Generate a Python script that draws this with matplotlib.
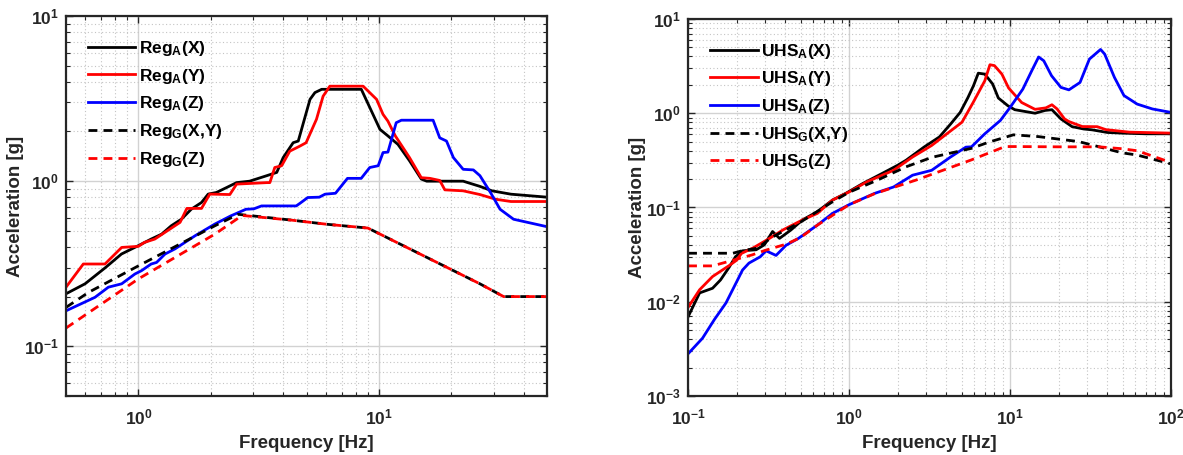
import numpy as np
import matplotlib
matplotlib.use("Agg")
import matplotlib.pyplot as plt
from matplotlib.ticker import LogLocator, NullFormatter, FuncFormatter

plt.rcParams['font.family'] = ['Liberation Sans', 'DejaVu Sans']
plt.rcParams['font.weight'] = 'bold'
plt.rcParams['mathtext.fontset'] = 'custom'
plt.rcParams['mathtext.rm'] = 'Liberation Sans:bold'
plt.rcParams['mathtext.it'] = 'Liberation Sans:bold'
plt.rcParams['mathtext.bf'] = 'Liberation Sans:bold'
plt.rcParams['mathtext.sf'] = 'Liberation Sans:bold'
plt.rcParams['mathtext.default'] = 'rm'

# ---------------- Left panel data (regulatory spectra) ----------------
reg_ax_f = [0.5, 0.6, 0.73, 0.85, 1.0, 1.13, 1.25, 1.37, 1.51, 1.66, 1.83, 1.95, 2.11, 2.33, 2.56,
            2.9, 3.42, 3.76, 4.0, 4.4, 4.62, 5.17, 5.42, 5.78, 8.45, 10.1, 10.9, 12.0, 13.4, 15.0,
            15.8, 22.4, 26.3, 29.5, 35.4, 50]
reg_ax_a = [0.208, 0.239, 0.30, 0.362, 0.407, 0.446, 0.478, 0.537, 0.589, 0.677, 0.743, 0.835, 0.854,
            0.916, 0.98, 1.0, 1.08, 1.13, 1.39, 1.71, 1.75, 3.13, 3.44, 3.6, 3.6, 2.06, 1.88, 1.67,
            1.33, 1.03, 1.0, 1.0, 0.93, 0.874, 0.834, 0.80]

reg_ay_f = [0.5, 0.59, 0.726, 0.852, 1.0, 1.06, 1.17, 1.29, 1.49, 1.59, 1.83, 1.98, 2.4, 2.56, 3.42,
            3.52, 3.69, 3.94, 4.26, 4.69, 4.98, 5.5, 5.86, 6.25, 8.6, 9.78, 10.4, 10.9, 11.7, 13.4,
            15.0, 16.3, 17.9, 18.8, 22.4, 26.3, 30.6, 35.4, 50]
reg_ay_a = [0.228, 0.315, 0.315, 0.397, 0.403, 0.426, 0.446, 0.49, 0.563, 0.684, 0.684, 0.835, 0.83,
            0.96, 0.98, 0.98, 1.21, 1.24, 1.52, 1.63, 1.71, 2.37, 3.27, 3.76, 3.76, 3.13, 2.54, 2.31,
            1.88, 1.39, 1.05, 1.04, 1.01, 0.886, 0.874, 0.83, 0.777, 0.753, 0.753]

reg_az_f = [0.5, 0.66, 0.75, 0.852, 0.967, 1.03, 1.13, 1.19, 1.29, 1.42, 1.72, 2.08, 2.42, 2.8, 3.02,
            3.25, 4.53, 4.7, 5.06, 5.65, 5.97, 6.6, 7.4, 8.44, 9.16, 9.93, 10.4, 10.9, 11.8, 12.4,
            16.8, 17.9, 19.1, 20.4, 22.4, 24.7, 26.3, 29.1, 31.9, 36.3, 50]
reg_az_a = [0.164, 0.198, 0.228, 0.239, 0.274, 0.287, 0.315, 0.322, 0.362, 0.389, 0.467, 0.55, 0.616,
            0.676, 0.68, 0.708, 0.708, 0.735, 0.796, 0.80, 0.834, 0.845, 1.04, 1.04, 1.21, 1.24, 1.49,
            1.5, 2.26, 2.34, 2.34, 1.83, 1.75, 1.39, 1.18, 1.17, 1.08, 0.854, 0.676, 0.588, 0.53]

reg_gxy_f = [0.5, 0.62, 1.0, 2.08, 2.6, 4.37, 6.09, 9.0, 26.3, 33.0, 50]
reg_gxy_a = [0.172, 0.212, 0.307, 0.537, 0.63, 0.58, 0.548, 0.52, 0.239, 0.20, 0.20]

reg_gz_f = [0.5, 1.0, 2.08, 2.7, 4.37, 6.09, 9.0, 26.3, 33.0, 50]
reg_gz_a = [0.129, 0.256, 0.478, 0.62, 0.58, 0.548, 0.52, 0.239, 0.20, 0.20]

# ---------------- Right panel data (uniform hazard spectra) ----------------
uhs_ax_f = [0.1, 0.118, 0.142, 0.159, 0.18, 0.197, 0.218, 0.265, 0.298, 0.335, 0.37, 0.435, 0.515,
            0.636, 0.79, 0.96, 1.22, 1.6, 2.0, 2.26, 2.92, 3.64, 4.28, 4.9, 5.48, 5.93, 6.35, 6.97,
            7.8, 8.46, 9.7, 10.7, 14.3, 16.5, 18.2, 20.7, 24.3, 28.7, 32.4, 40.2, 49.6, 70, 100]
uhs_ax_a = [0.0069, 0.0124, 0.0139, 0.017, 0.0232, 0.030, 0.0347, 0.0356, 0.0402, 0.0556, 0.047,
            0.0576, 0.074, 0.0903, 0.12, 0.142, 0.18, 0.229, 0.28, 0.317, 0.437, 0.56, 0.77, 1.02,
            1.47, 1.96, 2.66, 2.6, 2.04, 1.45, 1.2, 1.09, 1.0, 1.07, 1.09, 0.87, 0.72, 0.68, 0.666,
            0.625, 0.615, 0.605, 0.605]

uhs_ay_f = [0.1, 0.118, 0.142, 0.182, 0.2, 0.215, 0.252, 0.314, 0.39, 0.512, 0.636, 0.79, 1.0, 1.29,
            1.89, 2.48, 3.26, 4.05, 5.03, 5.9, 6.97, 7.5, 8.0, 8.9, 9.8, 11.8, 14.3, 16.7, 18.2, 19.6,
            21.8, 23.2, 28.1, 34.8, 39.3, 55, 100]
uhs_ay_a = [0.0087, 0.0134, 0.0185, 0.0245, 0.0275, 0.0326, 0.037, 0.046, 0.058, 0.0735, 0.0866,
            0.12, 0.146, 0.187, 0.248, 0.343, 0.455, 0.605, 0.803, 1.3, 2.21, 3.27, 3.2, 2.6, 1.85,
            1.3, 1.1, 1.14, 1.23, 1.11, 0.87, 0.816, 0.722, 0.72, 0.67, 0.63, 0.615]

uhs_az_f = [0.1, 0.123, 0.146, 0.172, 0.203, 0.218, 0.239, 0.281, 0.305, 0.352, 0.406, 0.485, 0.636,
            0.79, 1.0, 1.44, 1.89, 2.48, 3.26, 4.27, 5.32, 5.76, 6.97, 8.7, 10.0, 12.0, 13.8, 15.05,
            16.2, 18.1, 20.7, 23.2, 27.2, 31.1, 36.5, 38.7, 44.5, 51, 61.6, 76.6, 100]
uhs_az_a = [0.0028, 0.0041, 0.0065, 0.0097, 0.017, 0.0217, 0.0257, 0.030, 0.0347, 0.031, 0.0397,
            0.047, 0.065, 0.0866, 0.107, 0.141, 0.165, 0.22, 0.248, 0.343, 0.437, 0.44, 0.605, 0.837,
            1.15, 1.8, 2.94, 3.95, 3.6, 2.5, 1.88, 1.77, 2.12, 3.75, 4.75, 4.24, 2.4, 1.54, 1.25,
            1.11, 1.02]

uhs_gxy_f = [0.1, 0.19, 0.22, 0.27, 0.33, 0.5, 0.79, 1.0, 1.5, 2.26, 3.26, 5.76, 7.4, 10.5, 15.0,
             26.7, 35.8, 49.6, 61.6, 100]
uhs_gxy_a = [0.0327, 0.0327, 0.035, 0.037, 0.048, 0.07, 0.115, 0.145, 0.195, 0.27, 0.34, 0.424,
             0.494, 0.59, 0.565, 0.50, 0.44, 0.38, 0.36, 0.29]

uhs_gz_f = [0.1, 0.142, 0.25, 0.3, 0.41, 0.5, 0.636, 1.0, 1.44, 2.6, 5.76, 9.3, 10.7, 20.0, 35.8,
            49.6, 61.6, 100]
uhs_gz_a = [0.024, 0.024, 0.0314, 0.035, 0.041, 0.048, 0.065, 0.107, 0.14, 0.195, 0.32, 0.443,
            0.443, 0.44, 0.44, 0.42, 0.40, 0.30]

left_labels = [r"Reg$_{A}$(X)", r"Reg$_{A}$(Y)", r"Reg$_{A}$(Z)", r"Reg$_{G}$(X,Y)", r"Reg$_{G}$(Z)"]
right_labels = [r"UHS$_{A}$(X)", r"UHS$_{A}$(Y)", r"UHS$_{A}$(Z)", r"UHS$_{G}$(X,Y)", r"UHS$_{G}$(Z)"]

AXC = '#262626'
fig = plt.figure(figsize=(11.83, 4.55), dpi=100)
axL = fig.add_axes([0.0558, 0.1297, 0.4066, 0.835])
axR = fig.add_axes([0.5816, 0.1297, 0.4083, 0.8286])

dash = (0, (3.2, 2.2))
lw = 2.0


def style(ax):
    ax.set_xscale('log')
    ax.set_yscale('log')
    ax.xaxis.set_major_locator(LogLocator(base=10, numticks=20))
    ax.yaxis.set_major_locator(LogLocator(base=10, numticks=20))
    ax.xaxis.set_minor_locator(LogLocator(base=10, subs=np.arange(2, 10), numticks=50))
    ax.yaxis.set_minor_locator(LogLocator(base=10, subs=np.arange(2, 10), numticks=50))
    fmt = FuncFormatter(lambda v, p: r'$\mathbf{10^{%d}}$' % int(round(np.log10(v))))
    ax.xaxis.set_major_formatter(fmt)
    ax.yaxis.set_major_formatter(fmt)
    ax.xaxis.set_minor_formatter(NullFormatter())
    ax.yaxis.set_minor_formatter(NullFormatter())
    ax.tick_params(which='both', direction='in', top=True, right=True, colors=AXC,
                   labelcolor=AXC, labelsize=12.5)
    ax.tick_params(which='major', length=5, width=1.0)
    ax.tick_params(which='minor', length=3, width=0.8)
    ax.tick_params(axis='x', which='major', pad=8)
    ax.tick_params(axis='y', which='major', pad=5)
    ax.grid(True, which='major', color='#d2d2d2', lw=1.0, ls='-')
    ax.grid(True, which='minor', color='#c4c4c4', lw=0.8, ls=(0, (1, 2.2)))
    ax.set_axisbelow(True)
    for s in ax.spines.values():
        s.set_linewidth(1.6)
        s.set_color(AXC)
    ax.set_xlabel('Frequency [Hz]', fontsize=13.5, fontweight='bold', color=AXC, labelpad=6)
    ax.set_ylabel('Acceleration [g]', fontsize=13.5, fontweight='bold', color=AXC, labelpad=0)


axL.plot(reg_ax_f, reg_ax_a, color='k', lw=lw, label=left_labels[0])
axL.plot(reg_ay_f, reg_ay_a, color='#ff0000', lw=lw, label=left_labels[1])
axL.plot(reg_az_f, reg_az_a, color='#0000ff', lw=lw, label=left_labels[2])
axL.plot(reg_gxy_f, reg_gxy_a, color='k', lw=lw, ls=dash, label=left_labels[3])
axL.plot(reg_gz_f, reg_gz_a, color='#ff0000', lw=lw, ls=dash, label=left_labels[4])
style(axL)
axL.set_xlim(0.5, 50)
axL.set_ylim(0.05, 10)

axR.plot(uhs_ax_f, uhs_ax_a, color='k', lw=lw, label=right_labels[0])
axR.plot(uhs_ay_f, uhs_ay_a, color='#ff0000', lw=lw, label=right_labels[1])
axR.plot(uhs_az_f, uhs_az_a, color='#0000ff', lw=lw, label=right_labels[2])
axR.plot(uhs_gxy_f, uhs_gxy_a, color='k', lw=lw, ls=dash, label=right_labels[3])
axR.plot(uhs_gz_f, uhs_gz_a, color='#ff0000', lw=lw, ls=dash, label=right_labels[4])
style(axR)
axR.set_xlim(0.1, 100)
axR.set_ylim(0.001, 10)

for ax in (axL, axR):
    ax.legend(loc='upper left', bbox_to_anchor=(0.045, 0.94), frameon=False,
              prop={'size': 12.5, 'weight': 'bold'}, handlelength=2.75, handletextpad=0.22,
              labelspacing=0.5, borderaxespad=0, borderpad=0)

fig.savefig('out.png', dpi=100)
